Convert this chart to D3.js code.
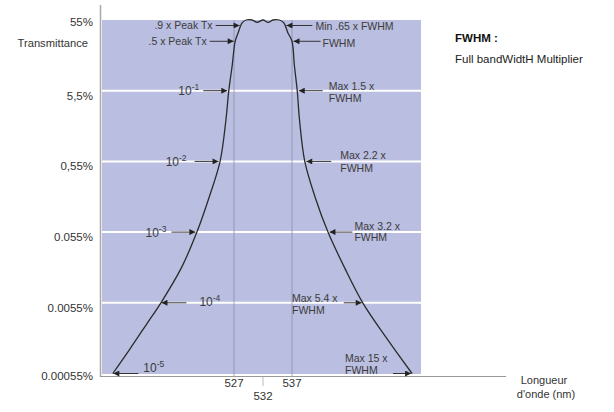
<!DOCTYPE html>
<html>
<head>
<meta charset="utf-8">
<script src="https://cdn.jsdelivr.net/npm/d3@7/dist/d3.min.js"></script>
<style>
  html, body { margin: 0; padding: 0; background: #fff; }
  svg { display: block; font-family: "Liberation Sans", Arial, sans-serif; }
</style>
</head>
<body>
<svg id="chart" width="614" height="412"></svg>
<script>
// ---- data ----
const wavelengths = [506.1, 509.1, 512.0, 514.4, 517.9, 520.6, 522.7, 524.6, 525.6, 526.1, 526.7, 527.2, 527.7, 528.4,
  529.1, 530.1, 531.0, 532.0, 532.9, 533.7, 534.8,
  535.6, 536.3, 537.0, 537.4, 537.9, 538.3, 539.2, 541.0, 543.2, 546.1, 549.2, 553.4, 557.7];
const transmittance = [0.00055, 0.00124, 0.0028, 0.0055, 0.017, 0.055, 0.17, 0.55, 2.1, 5.5, 12.7, 27.5, 36, 50,
  55, 55, 51, 55, 51, 55, 55,
  50, 36, 27.5, 12.7, 5.5, 2.1, 0.55, 0.17, 0.055, 0.017, 0.0055, 0.0017, 0.00055];

const yTickValues = [55, 5.5, 0.55, 0.055, 0.0055, 0.00055];
const yTickLabels = ["55%", "5,5%", "0,55%", "0.055%", "0.0055%", "0.00055%"];
const gridValues = [5.5, 0.55, 0.055, 0.0055];
const xTickValues = [527, 532, 537];
const xGuideValues = [527, 537];

const noteLevels = [46, 27.5, 5.5, 0.55, 0.055, 0.0055, 0.00055];
const leftNotes = [".9 x Peak Tx", ".5 x Peak Tx", "10|-1", "10|-2", "10|-3", "10|-4", "10|-5"];
const rightNotes = [["Min .65 x FWHM"], ["FWHM"], ["Max 1.5 x", "FWHM"], ["Max 2.2 x", "FWHM"],
  ["Max 3.2 x", "FWHM"], ["Max 5.4 x", "FWHM"], ["Max 15 x", "FWHM"]];

// ---- layout ----
const svg = d3.select("#chart");
const x = d3.scaleLinear().domain([504.24, 559.24]).range([102, 421]);
const y = d3.scaleLog().domain([0.00055, 55]).range([373.5, 20]);

const textCol = "#333";
const noteCol = "#3c3c3c";

// background
svg.append("rect").attr("x", x.range()[0]).attr("y", y(55))
  .attr("width", x.range()[1] - x.range()[0]).attr("height", 374 - y(55))
  .attr("fill", "#babee0");

// gridlines
svg.append("g").selectAll("line").data(gridValues).join("line")
  .attr("x1", x.range()[0]).attr("x2", x.range()[1])
  .attr("y1", d => y(d)).attr("y2", d => y(d))
  .attr("stroke", "#fff").attr("stroke-width", 2);

// guide verticals
svg.append("g").selectAll("line").data(xGuideValues).join("line")
  .attr("x1", d => x(d)).attr("x2", d => x(d))
  .attr("y1", y(55)).attr("y2", 377)
  .attr("stroke", "#8a8fad").attr("stroke-width", 0.8);

// axes lines
svg.append("line").attr("x1", 100.5).attr("x2", 100.5).attr("y1", 5).attr("y2", 377)
  .attr("stroke", "#a8a8a8").attr("stroke-width", 1.5);
svg.append("line").attr("x1", 100).attr("x2", 506).attr("y1", 376.5).attr("y2", 376.5)
  .attr("stroke", "#999").attr("stroke-width", 1.2);

// y tick labels
svg.append("g").selectAll("text").data(yTickValues).join("text")
  .attr("x", 93).attr("y", (d, i) => y(d) + (i === 0 ? 6 : i === yTickValues.length - 1 ? 6 : 9))
  .attr("text-anchor", "end").attr("font-size", 11.5).attr("fill", textCol)
  .text((d, i) => yTickLabels[i]);
svg.append("text").attr("x", 88).attr("y", 47).attr("text-anchor", "end")
  .attr("font-size", 11.2).attr("fill", textCol).text("Transmittance");

// x ticks
svg.append("g").selectAll("text").data(xTickValues).join("text")
  .attr("x", d => x(d)).attr("y", (d, i) => i === 1 ? 400 : 387)
  .attr("text-anchor", "middle").attr("font-size", 11.5).attr("fill", textCol)
  .text(d => d);
svg.append("line").attr("x1", x(532)).attr("x2", x(532)).attr("y1", 377).attr("y2", 386)
  .attr("stroke", "#aaa").attr("stroke-width", 0.8);

// x title
svg.append("text").attr("x", 544).attr("y", 384).attr("text-anchor", "middle")
  .attr("font-size", 11).attr("fill", textCol).text("Longueur");
svg.append("text").attr("x", 546).attr("y", 398).attr("text-anchor", "middle")
  .attr("font-size", 11).attr("fill", textCol).text("d'onde (nm)");

// legend text
svg.append("text").attr("x", 455).attr("y", 42).attr("font-size", 11.5).attr("font-weight", "bold")
  .attr("fill", "#111").text("FWHM :");
svg.append("text").attr("x", 455).attr("y", 63).attr("font-size", 11.5)
  .attr("fill", "#222").text("Full bandWidtH Multiplier");

// curve
const pts = wavelengths.map((w, i) => [x(w), y(transmittance[i])]);
svg.append("path").datum(pts)
  .attr("d", d3.line().curve(d3.curveCatmullRom.alpha(0.5)))
  .attr("fill", "none").attr("stroke", "#2b2b2b").attr("stroke-width", 1.3);

// crossing helper
function crossX(level, fromLeft) {
  const ty = y(level);
  const idx = d3.range(pts.length - 1);
  if (!fromLeft) idx.reverse();
  for (const i of idx) {
    const a = pts[i], b = pts[i + 1];
    if ((a[1] - ty) * (b[1] - ty) <= 0 && a[1] !== b[1]) {
      return a[0] + (ty - a[1]) / (b[1] - a[1]) * (b[0] - a[0]);
    }
  }
  return fromLeft ? pts[0][0] : pts[pts.length - 1][0];
}

// marker
svg.append("defs").append("marker").attr("id", "ah")
  .attr("viewBox", "0 0 10 10").attr("refX", 10).attr("refY", 5)
  .attr("markerWidth", 7).attr("markerHeight", 6).attr("markerUnits", "userSpaceOnUse")
  .attr("orient", "auto")
  .append("path").attr("d", "M0,0 L10,5 L0,10 z").attr("fill", "#222");

function arrow(x1, x2, yy) {
  svg.append("line").attr("x1", x1).attr("x2", x2).attr("y1", yy).attr("y2", yy)
    .attr("stroke", "#333").attr("stroke-width", 1).attr("marker-end", "url(#ah)");
}
function noteText(xx, yy, label, anchor) {
  const t = svg.append("text").attr("x", xx).attr("y", yy).attr("text-anchor", anchor)
    .attr("font-size", 10.5).attr("fill", noteCol);
  if (label.includes("|")) {
    const [base, sup] = label.split("|");
    t.attr("font-size", 12);
    t.append("tspan").text(base);
    t.append("tspan").attr("dy", -5).attr("font-size", 8.5).text(sup);
  } else t.text(label);
}

// left notes: gap between arrow tail and label, inward flag
const leftGap = [3, 3, 4, 8, 5, 13, 5];
const leftInward = [false, false, false, false, false, true, true];
const leftDy = [3.5, 3.5, 4.5, 4.5, 4.5, 3.5, -2];
noteLevels.forEach((lv, i) => {
  const yy = y(lv);
  const cx = crossX(lv, true);
  if (!leftInward[i]) {
    const tip = cx - 1.5, tail = tip - 24;
    arrow(tail, tip, yy);
    noteText(tail - leftGap[i], yy + leftDy[i], leftNotes[i], "end");
  } else {
    const tip = cx + 0.5, tail = tip + 25;
    arrow(tail, tip, yy);
    noteText(tail + leftGap[i], yy + leftDy[i], leftNotes[i], "start");
  }
});

// right notes
const rightLen = [26, 27, 24, 25, 23, 18, 18];
const rightGap = [3, 2, 6, 9, 2, 0, 0];
const rightInward = [false, false, false, false, false, true, true];
const rightTextStart = [null, null, null, null, null, 292, 345];
const rightDy = [[5], [5.5], [-1, 11], [-2, 11], [-2, 9], [-1, 11], [-12, 0]];
noteLevels.forEach((lv, i) => {
  const yy = y(lv);
  const cx = crossX(lv, false);
  if (!rightInward[i]) {
    const tip = cx + 1.5, tail = tip + rightLen[i];
    arrow(tail, tip, yy);
    rightNotes[i].forEach((ln, k) => noteText(tail + rightGap[i], yy + rightDy[i][k], ln, "start"));
  } else {
    const tip = cx - 1, tail = tip - rightLen[i];
    arrow(tail, tip, yy);
    rightNotes[i].forEach((ln, k) => noteText(rightTextStart[i], yy + rightDy[i][k], ln, "start"));
  }
});
</script>
</body>
</html>
